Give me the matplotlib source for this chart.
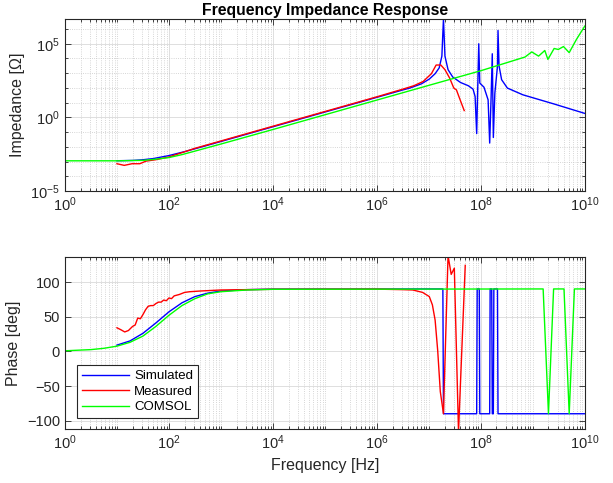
import numpy as np
import matplotlib
matplotlib.use('Agg')
import matplotlib.pyplot as plt
from matplotlib.ticker import FixedLocator, NullFormatter

plt.rcParams['font.family'] = ['Liberation Sans', 'DejaVu Sans']
plt.rcParams['mathtext.fontset'] = 'custom'
plt.rcParams['mathtext.rm'] = 'Liberation Sans'

# ---- data (frequencies in Hz) ----
# Simulated impedance
sim_f = [1e1, 2e1, 3e1, 5e1, 1e2, 2e2, 5e2, 1e3, 1e4, 1e5, 1e6, 3.2e6, 4.3e6,
         7.2e6, 1.02e7, 1.32e7, 1.58e7, 1.78e7, 1.91e7, 2.04e7, 2.34e7,
         2.88e7, 4.07e7, 5.75e7, 7.08e7, 7.76e7, 8.32e7, 9.12e7, 9.55e7,
         1.15e8, 1.38e8, 1.48e8, 1.58e8, 1.66e8, 1.74e8, 1.86e8, 2.09e8,
         2.14e8, 2.24e8, 2.51e8, 3.24e8, 6.46e8, 2.57e9, 1e10]
sim_z = [1.13e-3, 1.19e-3, 1.30e-3, 1.59e-3, 2.55e-3, 4.7e-3, 1.15e-2, 2.3e-2,
         0.23, 2.3, 23, 74, 98, 190, 400, 930, 2300, 1.45e4, 5e6, 1.45e4,
         1740, 550, 234, 141, 83, 26, 0.079, 1e5, 214, 112, 15.5, 0.018, 32,
         2.1e4, 0.043, 44, 2950, 8.1e5, 3160, 363, 98, 34, 8.1, 1.86]

# Measured impedance
meas_f = [1e1, 1.38e1, 1.95e1, 2.75e1, 3.63e1, 5.5e1, 1e2, 3.16e2, 1e3, 1e4,
          1e5, 1e6, 3.16e6, 5.13e6, 7.76e6, 1.12e7, 1.38e7, 1.7e7, 2.04e7,
          2.51e7, 3.02e7, 3.39e7, 3.89e7, 4.79e7]
meas_z = [7.1e-4, 5.5e-4, 7.1e-4, 7.1e-4, 1.07e-3, 1.32e-3, 2.04e-3, 7.9e-3,
          2.5e-2, 0.25, 2.5, 25, 83, 141, 275, 930, 3600, 3600, 1740, 470,
          98, 74, 20, 2.9]

# COMSOL impedance
com_f = [1e0, 1e1, 3.16e1, 5.62e1, 1e2, 1.78e2, 3.16e2, 1e3, 1e4, 1e5, 1e6,
         1e7, 1e8, 7.08e8, 9.55e8, 1.29e9, 1.7e9, 1.95e9, 2.57e9, 3.09e9,
         3.89e9, 5.01e9, 6.92e9, 1e10]
com_z = [1.12e-3, 1.12e-3, 1.2e-3, 1.45e-3, 1.86e-3, 2.95e-3, 5.1e-3, 1.55e-2,
         0.15, 1.5, 15, 150, 1480, 1.26e4, 2.8e4, 1.45e4, 3.5e4, 8.7e3, 4.8e4,
         4.1e4, 6.5e4, 2.5e4, 2.0e5, 1.6e6]

# Simulated phase
simp_f = [1e1, 1.78e1, 3.16e1, 5.62e1, 1e2, 1.78e2, 3.16e2, 5.62e2, 1e3,
          3.16e3, 1e4, 1.86e7, 1.91e7, 8.32e7, 8.51e7, 9.33e7, 9.55e7,
          1.48e8, 1.51e8, 1.62e8, 1.66e8, 1.74e8, 1.78e8, 2.09e8, 2.14e8, 1e10]
simp_p = [9, 15, 26, 41, 57, 70, 79, 84, 87, 89, 89.7, 90, -90, -90, 90, 90,
          -90, -90, 90, 90, -90, -90, 90, 90, -90, -90]

# Measured phase
measp_f = [1e1, 1.2e1, 1.41e1, 1.66e1, 2e1, 2.24e1, 2.51e1, 2.82e1, 3.16e1,
           3.55e1, 3.98e1, 4.47e1, 5.01e1, 5.62e1, 6.31e1, 7.08e1, 7.94e1,
           8.91e1, 1e2, 1.12e2, 1.26e2, 1.58e2, 2e2, 2.51e2, 3.98e2, 1e3, 1e4,
           1e6, 3.16e6, 4.9e6, 7.59e6, 1.02e7, 1.17e7, 1.32e7, 1.48e7,
           1.66e7, 1.91e7, 2.34e7, 2.69e7, 3.09e7, 3.72e7, 5.01e7]
measp_p = [34, 31, 28, 30, 36, 38, 48, 47, 53, 60, 65, 66, 66, 69, 71, 71,
           74, 73, 77, 76, 80, 82, 85, 86, 87, 88.5, 89.5, 89.7, 89, 88.5, 85,
           79, 67, 45, 1, -58, -90, 138, 111, 120, -116, 124]

# COMSOL phase
comp_f = [1e0, 3.16e0, 5.62e0, 1e1, 1.78e1, 3.16e1, 5.62e1, 1e2, 1.78e2,
          3.16e2, 5.62e2, 1e3, 3.16e3, 1e4, 1.58e9, 2e9, 2.51e9, 3.98e9,
          5.01e9, 6.31e9, 1e10]
comp_p = [0.8, 2.5, 4.4, 7.5, 13, 22, 36, 52, 66, 76, 83, 86, 88.5, 89.5, 90,
          -90, 90, 90, -90, 90, 90]

# ---- figure ----
fig = plt.figure(figsize=(6.13, 4.83), dpi=100)
ax1 = fig.add_axes([0.106, 0.6046, 0.848, 0.356])
ax2 = fig.add_axes([0.106, 0.1118, 0.848, 0.356])

blue, red, green = (0, 0, 1), (1, 0, 0), (0, 1, 0)

ax1.loglog(sim_f, sim_z, color=blue, lw=1.0)
ax1.loglog(meas_f, meas_z, color=red, lw=1.0)
ax1.loglog(com_f, com_z, color=green, lw=1.0)

ax2.semilogx(simp_f, simp_p, color=blue, lw=1.0, label='Simulated')
ax2.semilogx(measp_f, measp_p, color=red, lw=1.0, label='Measured')
ax2.semilogx(comp_f, comp_p, color=green, lw=1.0, label='COMSOL')

xmaj = [10.0 ** k for k in range(0, 11, 2)]
xmin = [m * 10.0 ** k for k in range(0, 10) for m in range(1, 10)]

for ax in (ax1, ax2):
    ax.set_xlim(1, 1e10)
    ax.xaxis.set_major_locator(FixedLocator(xmaj))
    ax.xaxis.set_minor_locator(FixedLocator(xmin))
    ax.xaxis.set_minor_formatter(NullFormatter())
    ax.grid(True, which='major', color='#d9d9d9', lw=0.6, ls='-')
    ax.grid(True, which='minor', axis='x', color='#c8c8c8', lw=0.6, ls=':')
    ax.tick_params(which='both', direction='in', top=True, right=True,
                   labelsize=10.5, colors='#262626', width=0.6)
    ax.tick_params(which='major', length=4)
    ax.tick_params(which='minor', length=2)
    for s in ax.spines.values():
        s.set_color('#262626')
        s.set_linewidth(0.8)
    ax.set_axisbelow(True)

ax1.set_ylim(1e-5, 4.8e6)
ax1.yaxis.set_major_locator(FixedLocator([1e-5, 1e0, 1e5]))
ax1.yaxis.set_minor_locator(FixedLocator([10.0 ** k for k in range(-5, 7)]))
ax1.yaxis.set_minor_formatter(NullFormatter())
ax1.grid(True, which='minor', axis='y', color='#c8c8c8', lw=0.6, ls=':')
ax1.set_ylabel('Impedance [Ω]', fontsize=11.5, color='#262626')
ax1.set_title('Frequency Impedance Response', fontsize=11.3, fontweight='bold', pad=3)

ax2.set_ylim(-112, 136)
ax2.set_yticks([-100, -50, 0, 50, 100])
ax2.set_ylabel('Phase [deg]', fontsize=11.5, color='#262626')
ax2.set_xlabel('Frequency [Hz]', fontsize=11.5, color='#262626')

leg = ax2.legend(loc='lower left', bbox_to_anchor=(0.023, 0.064), borderaxespad=0,
                 fancybox=False, framealpha=1, edgecolor='#262626', fontsize=9.5,
                 handlelength=3.6, handletextpad=0.4, borderpad=0.35,
                 labelspacing=0.25)
leg.get_frame().set_linewidth(0.8)

fig.savefig('out.png', dpi=100)
